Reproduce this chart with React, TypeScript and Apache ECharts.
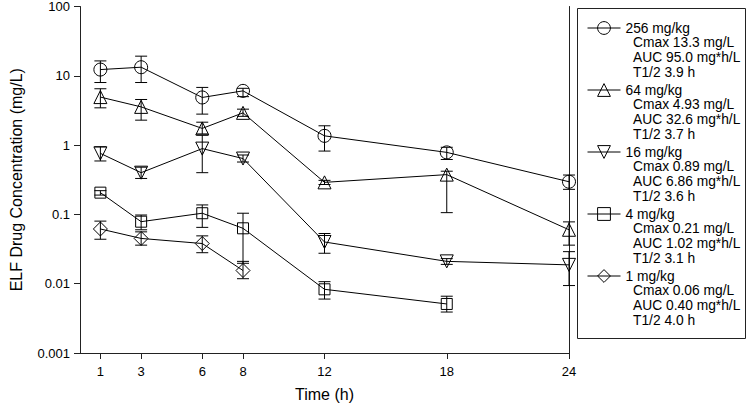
import React, { useEffect, useRef } from "react";
import * as echarts from "echarts";

// ---- data ----
const times = [1, 3, 6, 8, 12, 18, 24];
const xTicks = [1, 3, 6, 8, 12, 18, 24];

const doses = ["256 mg/kg", "64 mg/kg", "16 mg/kg", "4 mg/kg", "1 mg/kg"];
const cmaxText = ["13.3", "4.93", "0.89", "0.21", "0.06"];
const aucText = ["95.0", "32.6", "6.86", "1.02", "0.40"];
const halfLifeText = ["3.9", "3.7", "3.6", "3.1", "4.0"];

const conc256 = [12.3, 13.3, 4.87, 6.06, 1.36, 0.785, 0.296];
const low256 = [8.0, 8.0, 2.8, 5.0, 0.82, 0.62, 0.23];
const high256 = [16.4, 19.2, 6.8, 6.6, 1.9, 0.93, 0.37];

const conc64 = [4.93, 3.56, 1.74, 2.92, 0.29, 0.375, 0.06];
const low64 = [3.45, 2.29, 1.45, 2.6, 0.27, 0.106, 0.036];
const high64 = [6.5, 4.55, 2.14, 3.3, 0.31, 0.42, 0.078];

const conc16 = [0.76, 0.4, 0.89, 0.64, 0.04, 0.021, 0.0187];
const low16 = [0.59, 0.33, 0.4, 0.57, 0.0275, 0.019, 0.0094];
const high16 = [0.945, 0.48, 1.39, 0.72, 0.053, 0.023, 0.029];

const conc4 = [0.206, 0.0785, 0.104, 0.063, 0.0083, 0.0051];
const low4 = [0.19, 0.06, 0.065, 0.0197, 0.006, 0.0039];
const high4 = [0.22, 0.098, 0.137, 0.104, 0.0107, 0.0066];

const conc1 = [0.0616, 0.045, 0.038, 0.0155];
const low1 = [0.0438, 0.036, 0.028, 0.0118];
const high1 = [0.08, 0.056, 0.049, 0.021];

// ---- styles ----
const FONT = '"Liberation Sans", Arial, sans-serif';
const groups = [
  { values: conc256, low: low256, high: high256, symbol: "circle", rotate: 0, size: 13 },
  { values: conc64, low: low64, high: high64, symbol: "triangle", rotate: 0, size: 13 },
  { values: conc16, low: low16, high: high16, symbol: "triangle", rotate: 180, size: 13 },
  { values: conc4, low: low4, high: high4, symbol: "rect", rotate: 0, size: 11 },
  { values: conc1, low: low1, high: high1, symbol: "diamond", rotate: 0, size: 14 },
];

export default function App() {
  const ref = useRef<HTMLDivElement>(null);

  useEffect(() => {
    if (!ref.current) return;
    const chart = echarts.init(ref.current, null, { renderer: "svg" });

    const lineSeries = groups.map((g, i) => ({
      type: "line",
      name: doses[i],
      data: g.values.map((v, k) => [times[k], v]),
      symbol: g.symbol,
      symbolSize: g.size,
      symbolRotate: g.rotate,
      showSymbol: true,
      lineStyle: { color: "#000", width: 1 },
      itemStyle: { color: "transparent", borderColor: "#000", borderWidth: 1 },
      emphasis: { disabled: true },
      z: 3,
    }));

    const errData: number[][] = [];
    groups.forEach((g) => {
      g.values.forEach((_, k) => {
        errData.push([times[k], g.low[k], g.high[k]]);
      });
    });

    const errSeries = {
      type: "custom",
      name: "error",
      data: errData,
      encode: { x: 0, y: [1, 2] },
      silent: true,
      z: 2,
      renderItem: (params: any, api: any) => {
        const x = api.value(0);
        const lo = api.value(1);
        const hi = api.value(2);
        const top = api.coord([x, hi]);
        const bot = api.coord([x, lo]);
        const w = 6;
        const st = { stroke: "#000", lineWidth: 1 };
        return {
          type: "group",
          children: [
            { type: "line", shape: { x1: top[0], y1: top[1], x2: bot[0], y2: bot[1] }, style: st },
            { type: "line", shape: { x1: top[0] - w, y1: top[1], x2: top[0] + w, y2: top[1] }, style: st },
            { type: "line", shape: { x1: bot[0] - w, y1: bot[1], x2: bot[0] + w, y2: bot[1] }, style: st },
          ],
        };
      },
    };

    // legend detail lines
    const legendTop = 20;
    const itemH = 16;
    const itemGap = 46;
    const detailTexts: any[] = [];
    doses.forEach((_, i) => {
      const cy = legendTop + itemH / 2 + i * (itemH + itemGap);
      const lines = [
        `Cmax ${cmaxText[i]} mg/L`,
        `AUC ${aucText[i]} mg*h/L`,
        `T1/2 ${halfLifeText[i]} h`,
      ];
      lines.forEach((t, j) => {
        detailTexts.push({
          type: "text",
          x: 633,
          y: cy + (j + 1) * 14.8,
          style: {
            text: t,
            font: `13.8px ${FONT}`,
            fill: "#000",
            verticalAlign: "middle",
            align: "left",
          },
          silent: true,
        });
      });
    });

    const axisColor = "#222";

    chart.setOption({
      animation: false,
      backgroundColor: "#fff",
      grid: { left: 73, right: 181, top: 6, bottom: 58, containLabel: false },
      xAxis: {
        type: "value",
        min: 0,
        max: 24,
        name: "Time (h)",
        nameLocation: "middle",
        nameGap: 33,
        nameTextStyle: { fontSize: 16, fontFamily: FONT, color: "#000" },
        axisLine: { show: true, lineStyle: { color: axisColor, width: 1 } },
        axisTick: { show: true, customValues: xTicks, length: 6, lineStyle: { color: axisColor } },
        axisLabel: {
          customValues: xTicks,
          fontSize: 13,
          fontFamily: FONT,
          color: "#000",
          margin: 12,
        },
        splitLine: { show: false },
      },
      yAxis: [
        {
          type: "log",
          logBase: 10,
          min: 0.001,
          max: 100,
          name: "ELF Drug Concentration (mg/L)",
          nameLocation: "middle",
          nameGap: 56,
          nameTextStyle: { fontSize: 16, fontFamily: FONT, color: "#000" },
          axisLine: { show: true, lineStyle: { color: axisColor, width: 1 } },
          axisTick: { show: true, length: 6, lineStyle: { color: axisColor } },
          minorTick: { show: false },
          axisLabel: {
            fontSize: 13,
            fontFamily: FONT,
            color: "#000",
            margin: 10,
            formatter: (v: number) => String(Number(v.toPrecision(1))),
          },
          splitLine: { show: false },
        },
        {
          type: "log",
          logBase: 10,
          min: 0.001,
          max: 100,
          position: "right",
          axisLine: { show: true, lineStyle: { color: axisColor, width: 1 } },
          axisTick: { show: false },
          axisLabel: { show: false },
          splitLine: { show: false },
        },
      ],
      legend: {
        data: doses,
        orient: "vertical",
        left: 587,
        top: legendTop,
        padding: 0,
        itemWidth: 33,
        itemHeight: itemH,
        itemGap: itemGap,
        selectedMode: false,
        lineStyle: { width: 1, color: "#000" },
        itemStyle: { color: "transparent", borderColor: "#000", borderWidth: 1 },
        textStyle: { fontSize: 13.8, fontFamily: FONT, color: "#000", lineHeight: 16 },
      },
      graphic: [
        {
          type: "rect",
          shape: { x: 577.5, y: 8.5, width: 168, height: 330 },
          style: { fill: "none", stroke: "#222", lineWidth: 1 },
          silent: true,
        },
        ...detailTexts,
      ],
      series: [errSeries, ...lineSeries],
    });

    return () => chart.dispose();
  }, []);

  return (
    <div
      ref={ref}
      style={{ position: "absolute", left: 0, top: 0, width: 750, height: 411, background: "#fff" }}
    />
  );
}
